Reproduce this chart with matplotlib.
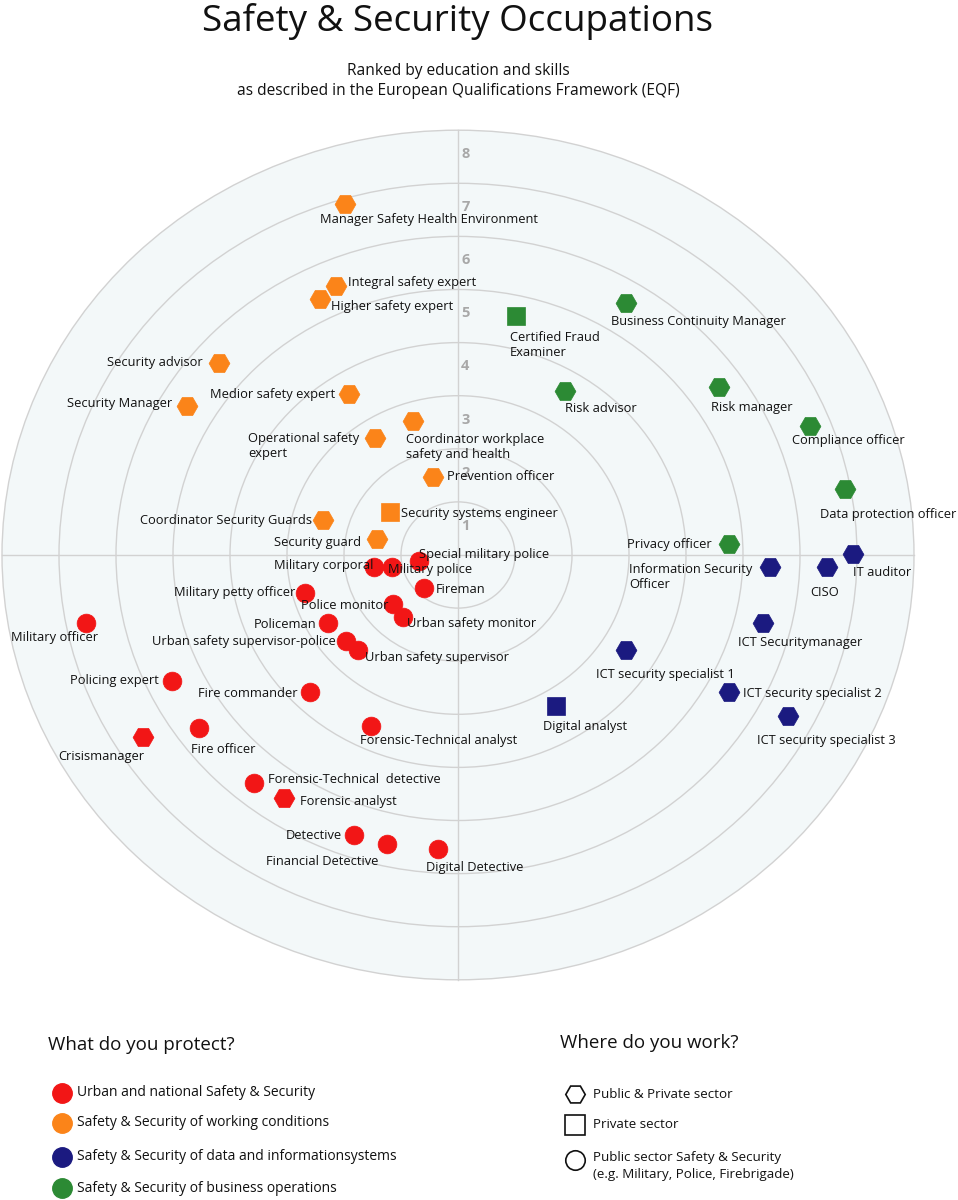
import matplotlib
matplotlib.use("Agg")
import matplotlib.pyplot as plt
from matplotlib.patches import Ellipse

plt.rcParams["font.family"] = ["Open Sans", "DejaVu Sans"]

# colours per protection category
COLORS = {"urban": "#f21616", "work": "#fb8419", "data": "#1b1a80", "business": "#2c8a34"}
# marker per work sector: H = public & private, s = private, o = public
SHAPES = {"both": "H", "private": "s", "public": "o"}

# occupations: x, y in ring units (1 ring = 1 EQF level)
orange_names = ["Manager Safety Health Environment", "Integral safety expert", "Higher safety expert",
                "Security advisor", "Medior safety expert", "Security Manager",
                "Operational safety\nexpert", "Coordinator workplace\nsafety and health",
                "Prevention officer", "Security systems engineer", "Coordinator Security Guards",
                "Security guard"]
orange_x = [-1.98, -2.14, -2.42, -4.19, -1.91, -4.75, -1.46, -0.79, -0.44, -1.19, -2.37, -1.42]
orange_y = [6.61, 5.07, 4.82, 3.62, 3.03, 2.81, 2.20, 2.52, 1.47, 0.81, 0.66, 0.30]
orange_sector = ["both"] * 9 + ["private", "both", "both"]

red_names = ["Military corporal", "Military police", "Special military police", "Fireman",
             "Military petty officer", "Police monitor", "Urban safety monitor", "Policeman",
             "Urban safety supervisor-police", "Urban safety supervisor", "Military officer",
             "Policing expert", "Fire commander", "Forensic-Technical analyst", "Crisismanager",
             "Fire officer", "Forensic-Technical  detective", "Forensic analyst", "Detective",
             "Financial Detective", "Digital Detective"]
red_x = [-1.47, -1.16, -0.68, -0.60, -2.68, -1.14, -0.96, -2.28, -1.96, -1.75, -6.53,
         -5.02, -2.60, -1.53, -5.53, -4.54, -3.58, -3.05, -1.82, -1.25, -0.35]
red_y = [-0.23, -0.23, -0.11, -0.62, -0.72, -0.92, -1.17, -1.28, -1.62, -1.79, -1.28,
         -2.37, -2.58, -3.22, -3.43, -3.26, -4.29, -4.58, -5.27, -5.44, -5.54]
red_sector = ["public"] * 14 + ["both", "public", "public", "both", "public", "public", "public"]

green_names = ["Certified Fraud\nExaminer", "Business Continuity Manager", "Risk advisor",
               "Risk manager", "Compliance officer", "Data protection officer", "Privacy officer"]
green_x = [1.02, 2.95, 1.88, 4.58, 6.18, 6.79, 4.75]
green_y = [4.50, 4.75, 3.09, 3.16, 2.43, 1.24, 0.21]
green_sector = ["private"] + ["both"] * 6

navy_names = ["Information Security\nOfficer", "CISO", "IT auditor", "ICT Securitymanager",
              "ICT security specialist 1", "ICT security specialist 2", "ICT security specialist 3",
              "Digital analyst"]
navy_x = [5.47, 6.47, 6.93, 5.35, 2.95, 4.75, 5.79, 1.72]
navy_y = [-0.23, -0.23, 0.02, -1.28, -1.79, -2.58, -3.03, -2.84]
navy_sector = ["both"] * 7 + ["private"]

# label placement: (dx px, dy px downward, ha)
orange_lbl = [(-25, 15, "left"), (12, -3, "left"), (11, 7, "left"), (-16, 0, "right"),
              (-14, 0, "right"), (-15, -2, "right"), (-127, 8, "left"), (-7, 26, "left"),
              (14, 0, "left"), (11, 2, "left"), (-11, 1, "right"), (-16, 3, "right")]
red_lbl = [(-1, -2, "right"), (-4, 2, "left"), (0, -6, "left"), (12, 2, "left"),
           (-10, -1, "right"), (-5, 2, "right"), (4, 6, "left"), (-12, 2, "right"),
           (-11, 0, "right"), (7, 7, "left"), (-31, 15, "center"), (-13, 0, "right"),
           (-12, 2, "right"), (-11, 15, "left"), (2, 19, "right"), (-8, 21, "left"),
           (14, -3, "left"), (16, 3, "left"), (-12, 1, "right"), (-8, 18, "right"),
           (-12, 18, "left")]
green_lbl = [(-6, 29, "left"), (-15, 19, "left"), (0, 18, "left"), (-8, 20, "left"),
             (-18, 15, "left"), (-25, 25, "left"), (-17, 1, "right")]
navy_lbl = [(-141, 10, "left"), (-2, 25, "center"), (0, 19, "left"), (-25, 20, "left"),
            (-30, 24, "left"), (14, 2, "left"), (-31, 25, "left"), (-13, 21, "left")]

groups = [
    ("work", orange_names, orange_x, orange_y, orange_sector, orange_lbl),
    ("urban", red_names, red_x, red_y, red_sector, red_lbl),
    ("business", green_names, green_x, green_y, green_sector, green_lbl),
    ("data", navy_names, navy_x, navy_y, navy_sector, navy_lbl),
]

levels = [1, 2, 3, 4, 5, 6, 7, 8]

protect_labels = ["Urban and national Safety & Security", "Safety & Security of working conditions",
                  "Safety & Security of data and informationsystems",
                  "Safety & Security of business operations"]
protect_keys = ["urban", "work", "data", "business"]
sector_labels = ["Public & Private sector", "Private sector",
                 "Public sector Safety & Security\n(e.g. Military, Police, Firebrigade)"]
sector_keys = ["both", "private", "public"]

W, H = 958, 1200
CX, CY = 458, 555          # pixel centre of the rings
SX, SY = 57.0, 53.1        # pixels per ring


def fp(x, y):
    return x / W, 1 - y / H


fig = plt.figure(figsize=(W / 100, H / 100), dpi=100)
ax = fig.add_axes([0, 0, 1, 1])
ax.set_xlim(-CX / SX, (W - CX) / SX)
ax.set_ylim(-(H - CY) / SY, CY / SY)
ax.axis("off")

ax.add_patch(Ellipse((0, 0), 16, 16, fc="#f3f8f9", ec="none", zorder=0))
for k in levels:
    ax.add_patch(Ellipse((0, 0), 2 * k, 2 * k, fill=False, ec="#d2d2d2", lw=1.0, zorder=1))
    ax.text(0.13, k - 0.45, str(k), color="#a8a8a8", fontsize=10.5, fontweight="bold",
            ha="center", va="center", zorder=1)
ax.plot([-8, 8], [0, 0], color="#d2d2d2", lw=1.0, zorder=1)
ax.plot([0, 0], [-8, 8], color="#d2d2d2", lw=1.0, zorder=1)

msize = {"H": 15, "s": 13, "o": 13.5}
for key, names, xs, ys, sectors, lbls in groups:
    for name, x, y, sec, (dx, dd, ha) in zip(names, xs, ys, sectors, lbls):
        m = SHAPES[sec]
        ax.plot(x, y, marker=m, ms=msize[m], color=COLORS[key], mec=COLORS[key], mew=0.5,
                ls="none", zorder=3)
        ax.annotate(name, (x, y), xytext=(dx, -dd), textcoords="offset pixels",
                    ha=ha, va="center", fontsize=9.3, color="#111111", zorder=4,
                    linespacing=1.2, multialignment="left")

# titles
fig.text(*fp(458, 22), "Safety & Security Occupations", ha="center", va="center",
         fontsize=26.5, color="#111111")
fig.text(*fp(458, 81), "Ranked by education and skills\nas described in the European Qualifications Framework (EQF)",
         ha="center", va="center", fontsize=11.2, color="#111111", linespacing=1.3)

# legends
fig.text(*fp(48, 1045), "What do you protect?", ha="left", va="center", fontsize=13.5, color="#111111")
fig.text(*fp(560, 1043), "Where do you work?", ha="left", va="center", fontsize=13.5, color="#111111")
for lbl, key, py in zip(protect_labels, protect_keys, [1093, 1123, 1157, 1188]):
    ax.plot(*fp(62, py), marker="o", ms=14, color=COLORS[key], ls="none",
            transform=fig.transFigure, clip_on=False)
    fig.text(*fp(77, py), lbl, ha="left", va="center", fontsize=10, color="#111111")
for lbl, key, py in zip(sector_labels, sector_keys, [1094, 1125, 1160]):
    ax.plot(*fp(575, py), marker=SHAPES[key], ms=14, mfc="white", mec="#111111", mew=1.2,
            ls="none", transform=fig.transFigure, clip_on=False)
    ty = py if "\n" not in lbl else py + 6
    fig.text(*fp(593, ty), lbl, ha="left", va="center", fontsize=9.6, color="#111111",
             linespacing=1.35)

fig.savefig("out.png", dpi=100, facecolor="white")
